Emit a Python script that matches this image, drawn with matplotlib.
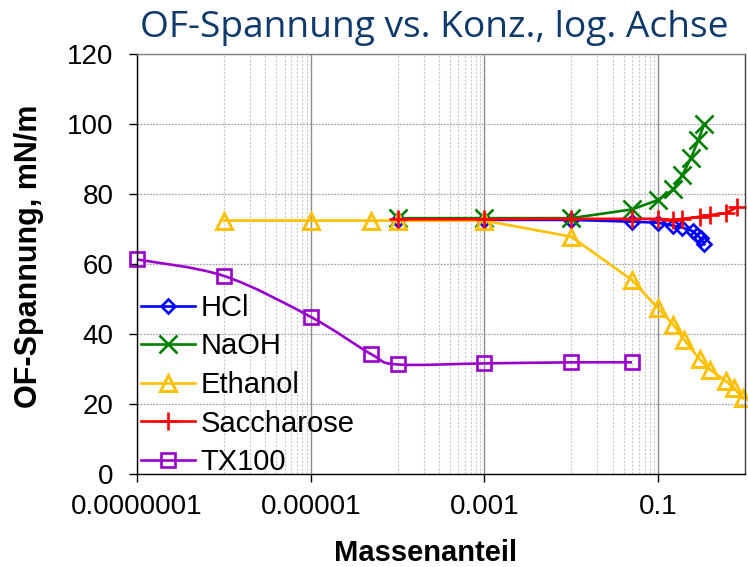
import numpy as np
import matplotlib
matplotlib.use('Agg')
import matplotlib.pyplot as plt
from matplotlib.path import Path
from matplotlib.patches import PathPatch
from matplotlib.lines import Line2D
from matplotlib.ticker import NullFormatter


# surface tension (mN/m) vs. mass fraction
hcl_x = [1e-4, 1e-3, 0.01, 0.05, 0.1, 0.15, 0.19, 0.25, 0.28, 0.31, 0.34]
hcl_y = [72.7, 72.6, 72.6, 72.1, 71.8, 70.9, 70.4, 69.4, 68.3, 67.3, 65.6]

naoh_x = [1e-4, 1e-3, 0.01, 0.05, 0.1, 0.15, 0.19, 0.24, 0.29, 0.34]
naoh_y = [73.1, 73.1, 73.1, 75.6, 78.3, 81.3, 85.4, 90.4, 95.4, 100.0]

eth_x = [1e-6, 1e-5, 5e-5, 1e-4, 1e-3, 0.01, 0.05, 0.1, 0.15, 0.2, 0.3, 0.4, 0.6, 0.75, 0.95]
eth_y = [72.4, 72.4, 72.4, 72.4, 72.4, 67.8, 55.4, 47.3, 42.6, 38.3, 32.8, 29.7, 26.6, 24.5, 21.6]

sac_x = [1e-4, 1e-3, 0.01, 0.05, 0.1, 0.15, 0.19, 0.3, 0.4, 0.6, 0.8]
sac_y = [72.8, 72.8, 72.9, 72.9, 72.9, 72.6, 72.9, 73.5, 74.0, 74.5, 76.2]

tx_x = [1e-7, 1e-6, 1e-5, 5e-5, 1e-4, 1e-3, 0.01, 0.05]
tx_y = [61.3, 56.6, 44.9, 34.2, 31.3, 31.6, 31.9, 31.9]

x_ticks = [1e-7, 1e-5, 1e-3, 1e-1]
x_ticklabels = ['0.0000001', '0.00001', '0.001', '0.1']
y_ticks = [0, 20, 40, 60, 80, 100, 120]


def smooth_path(xs, ys):
    # excel-like smoothed line: catmull-rom bezier in log-x space
    pts = np.column_stack([np.log10(xs), np.asarray(ys, dtype=float)])
    n = len(pts)
    verts = [pts[0]]
    codes = [Path.MOVETO]
    for i in range(n - 1):
        p0 = pts[max(i - 1, 0)]
        p1 = pts[i]
        p2 = pts[i + 1]
        p3 = pts[min(i + 2, n - 1)]
        verts += [p1 + (p2 - p0) / 6, p2 - (p3 - p1) / 6, p2]
        codes += [Path.CURVE4] * 3
    verts = np.array(verts)
    verts[:, 0] = 10 ** verts[:, 0]
    return Path(verts, codes)


plt.rcParams['font.family'] = ['Liberation Sans', 'DejaVu Sans']

fig = plt.figure(figsize=(7.48, 5.67), dpi=100)
ax = fig.add_axes([137 / 748, 1 - 474 / 567, 608 / 748, 420 / 567])

lw = 1.9
mw = 1.9
l_hcl, = ax.plot(hcl_x, hcl_y, color='#0000FF', lw=lw, marker='D', ms=7.5,
                 mfc='none', mec='#0000FF', mew=mw, clip_on=False, label='HCl')
l_naoh, = ax.plot(naoh_x, naoh_y, color='#008000', lw=lw, marker='x', ms=12.5,
                  mew=mw, clip_on=False, label='NaOH')
l_eth, = ax.plot(eth_x, eth_y, color='#FFC000', lw=lw, marker='^', ms=11.5,
                 mfc='none', mec='#FFC000', mew=2.1, clip_on=False, label='Ethanol')
l_sac, = ax.plot(sac_x, sac_y, color='#FF0000', lw=lw, marker='+', ms=12.5,
                 mew=mw, clip_on=False, label='Saccharose')

ax.add_patch(PathPatch(smooth_path(tx_x, tx_y), facecolor='none',
                       edgecolor='#9900CC', lw=lw, clip_on=False))
ax.plot(tx_x, tx_y, ls='none', marker='s', ms=10.5, mfc='none', mec='#9900CC',
        mew=mw, clip_on=False)
l_tx = Line2D([], [], color='#9900CC', lw=lw, marker='s', ms=10.5, mfc='none',
              mec='#9900CC', mew=mw, label='TX100')

ax.set_xscale('log')

ax.set_xticks(x_ticks)
ax.set_xticklabels(x_ticklabels)
minor = [m * 10.0 ** (k + 1) for k in (-7, -5, -3, -1) for m in range(1, 10)]
minor = [v for v in minor if v <= 1.0]
ax.set_xticks(minor, minor=True)
ax.xaxis.set_minor_formatter(NullFormatter())
ax.set_yticks(y_ticks)
ax.set_xlim(1e-7, 1)
ax.set_ylim(0, 120)

ax.tick_params(axis='both', which='major', direction='out', length=6,
               width=1, color='black', labelsize=20)
ax.tick_params(axis='x', which='major', pad=8.5)
ax.tick_params(axis='y', which='major', pad=11)
ax.tick_params(axis='x', which='minor', length=0)

ax.set_axisbelow(True)
ax.grid(True, axis='y', which='major', color='#a6a6a6', ls=(0, (1.5, 1)), lw=0.9)
ax.grid(True, axis='x', which='major', color='#8c8c8c', ls='-', lw=1.0)
ax.grid(True, axis='x', which='minor', color='#c8c8c8', ls=(0, (2, 1.5)), lw=0.8)

ax.spines['left'].set_color('black')
ax.spines['bottom'].set_color('black')
ax.spines['top'].set_color('#808080')
ax.spines['right'].set_color('#404040')
for s in ax.spines.values():
    s.set_linewidth(1.0)

ax.legend(handles=[l_hcl, l_naoh, l_eth, l_sac, l_tx], loc='upper left',
          bbox_to_anchor=(141 / 748, 1 - 294 / 567), bbox_transform=fig.transFigure,
          frameon=False, fontsize=21, handlelength=1.85, handletextpad=0.2,
          labelspacing=0.36, borderpad=0, borderaxespad=0, numpoints=1)

fig.text(434.5 / 748, 1 - 36.7 / 567, 'OF-Spannung vs. Konz., log. Achse',
         family='Open Sans', fontsize=26.7, color='#0F3A6B', ha='center', va='baseline')
fig.text(425.5 / 748, 1 - 561 / 567, 'Massenanteil', fontsize=21,
         fontweight='bold', ha='center', va='baseline')
fig.text(29 / 748, 1 - 256 / 567, 'OF-Spannung, mN/m', fontsize=22,
         fontweight='bold', rotation=90, ha='center', va='center')

fig.savefig('out.png', dpi=100)
